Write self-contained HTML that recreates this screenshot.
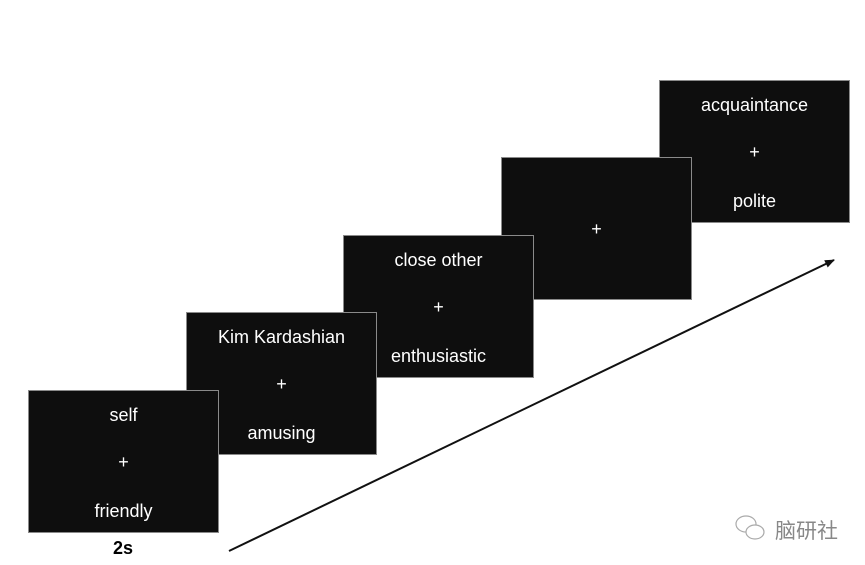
<!DOCTYPE html>
<html><head><meta charset="utf-8"><style>
body{margin:0;width:865px;height:565px;background:#fff;position:relative;overflow:hidden;font-family:"Liberation Sans",Arial,sans-serif}
.b{position:absolute;width:189px;height:141px;background:#0e0e0e;border:1px solid #8a8a8a;color:#fff;font-size:18px}
.b div{position:absolute;left:0;right:0;text-align:center;line-height:20px}
.t{top:14px}.p{top:61px}.m{top:110px}
</style></head><body>
<svg style="position:absolute;left:0;top:0" width="865" height="565">
<defs><marker id="a" markerWidth="10" markerHeight="8" refX="9" refY="4" orient="auto" markerUnits="userSpaceOnUse"><path d="M0,0 L10,4 L0,8 z" fill="#111"/></marker></defs>
<line x1="229" y1="551" x2="834" y2="260" stroke="#111" stroke-width="2" marker-end="url(#a)"/>
</svg>
<div class="b" style="left:28px;top:390px;z-index:5"><div class="t">self</div><div class="p">+</div><div class="m">friendly</div></div>
<div class="b" style="left:186px;top:312px;z-index:4"><div class="t">Kim Kardashian</div><div class="p">+</div><div class="m">amusing</div></div>
<div class="b" style="left:343px;top:235px;z-index:3"><div class="t">close other</div><div class="p">+</div><div class="m">enthusiastic</div></div>
<div class="b" style="left:501px;top:157px;z-index:2"><div class="p">+</div></div>
<div class="b" style="left:659px;top:80px;z-index:1"><div class="t">acquaintance</div><div class="p">+</div><div class="m">polite</div></div>
<div style="position:absolute;left:93px;top:538px;width:60px;text-align:center;font-weight:bold;font-size:18px">2s</div>
<svg style="position:absolute;left:733px;top:513px" width="36" height="30"><g fill="none" stroke="#aaa" stroke-width="1.2"><ellipse cx="13" cy="11" rx="10" ry="8"/><ellipse cx="22" cy="19" rx="9" ry="7" fill="#fff"/></g></svg>
<div style="position:absolute;left:775px;top:515px;color:#888;font-size:21px;font-family:'Noto Sans CJK SC',sans-serif">脑研社</div>
</body></html>
